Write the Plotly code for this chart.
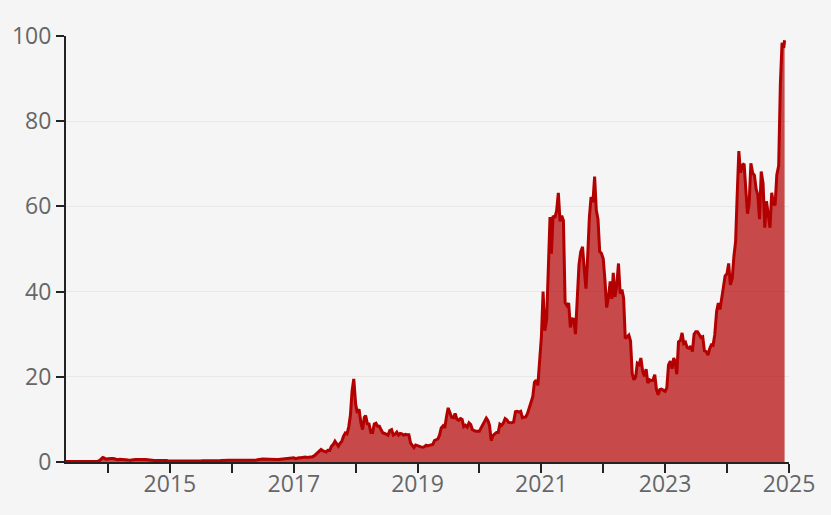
import plotly.graph_objects as go

# Values in thousands, sampled on the 1st, 11th and 21st of each month
start_date = "2013-04-28"
start_value = 0.134
v2013 = [  # May..Dec
    0.116, 0.115, 0.122, 0.122, 0.107, 0.100, 0.088, 0.095, 0.091,
    0.105, 0.107, 0.113, 0.128, 0.125, 0.123, 0.132, 0.128, 0.180,
    0.205, 0.330, 0.600, 1.05, 0.90, 0.65]
v2014 = [
    0.77, 0.85, 0.83, 0.80, 0.65, 0.58, 0.56, 0.63, 0.57, 0.47, 0.42, 0.49,
    0.45, 0.44, 0.52, 0.65, 0.57, 0.59, 0.63, 0.62, 0.62, 0.58, 0.57, 0.50,
    0.47, 0.47, 0.40, 0.38, 0.36, 0.38, 0.33, 0.37, 0.36, 0.38, 0.35, 0.32]
v2015 = [
    0.31, 0.27, 0.23, 0.23, 0.22, 0.24, 0.26, 0.29, 0.26, 0.25, 0.23, 0.23,
    0.24, 0.24, 0.24, 0.22, 0.23, 0.24, 0.26, 0.29, 0.28, 0.28, 0.26, 0.23,
    0.23, 0.24, 0.23, 0.24, 0.25, 0.27, 0.33, 0.31, 0.33, 0.36, 0.42, 0.44]
v2016 = [
    0.43, 0.45, 0.41, 0.37, 0.38, 0.44, 0.43, 0.42, 0.41, 0.42, 0.42, 0.45,
    0.45, 0.45, 0.44, 0.54, 0.70, 0.67, 0.68, 0.65, 0.66, 0.62, 0.59, 0.58,
    0.57, 0.61, 0.60, 0.61, 0.64, 0.63, 0.73, 0.71, 0.74, 0.75, 0.77, 0.83]
v2017 = [
    1.00, 0.78, 0.92, 0.99, 1.00, 1.12, 1.22, 1.19, 1.04, 1.08, 1.21, 1.24,
    1.42, 1.77, 2.07, 2.45, 2.95, 2.64, 2.50, 2.33, 2.75, 2.72, 3.65, 4.08,
    4.90, 4.30, 3.70, 4.40, 4.80, 6.00, 6.80, 6.60, 8.20, 10.9, 16.7, 19.5]
v2018 = [
    13.6, 11.5, 12.4, 9.2, 7.6, 10.5, 10.9, 9.0, 8.9, 6.9, 6.9, 8.9,
    9.1, 8.4, 8.4, 7.5, 6.8, 6.7, 6.4, 6.3, 7.4, 7.6, 6.3, 6.5,
    7.0, 6.3, 6.7, 6.6, 6.3, 6.5, 6.4, 6.4, 4.5, 4.0, 3.4, 4.0]
v2019 = [
    3.8, 3.6, 3.55, 3.45, 3.6, 3.95, 3.8, 3.9, 4.05, 4.1, 5.0, 5.3,
    5.4, 6.3, 8.0, 8.5, 8.0, 10.6, 12.7, 11.6, 10.5, 10.4, 11.4, 10.1,
    9.8, 10.2, 10.0, 8.3, 8.6, 8.2, 9.2, 8.8, 7.6, 7.4, 7.2, 7.2]
v2020 = [
    7.2, 8.0, 8.7, 9.4, 10.3, 9.7, 8.6, 5.0, 6.2, 6.6, 6.9, 6.9,
    8.9, 8.6, 9.1, 10.2, 9.9, 9.3, 9.2, 9.2, 9.4, 11.8, 11.9, 11.7,
    11.9, 10.4, 10.5, 10.6, 11.4, 12.8, 13.7, 15.3, 18.7, 19.2, 18.0, 23.4]
v2021 = [
    29.4, 40.0, 30.8, 33.5, 47.9, 57.5, 48.9, 57.8, 57.3, 59.0, 63.2, 56.5,
    57.8, 56.7, 37.4, 36.7, 37.3, 31.6, 33.6, 33.5, 30.0, 39.2, 46.4, 49.3,
    50.5, 45.2, 40.7, 48.2, 57.4, 62.2, 61.0, 67.0, 59.1, 57.0, 49.4, 49.0]
v2022 = [
    47.7, 42.7, 36.3, 38.7, 42.4, 38.3, 44.4, 38.8, 41.3, 46.6, 39.5, 40.5,
    38.5, 29.0, 29.4, 29.8, 28.4, 20.7, 19.3, 19.9, 23.2, 22.9, 24.4, 21.5,
    20.1, 21.8, 18.5, 19.3, 19.1, 19.2, 20.5, 17.0, 15.8, 17.0, 17.1, 16.8]
v2023 = [
    16.6, 17.4, 22.8, 23.7, 21.9, 24.4, 23.6, 20.6, 28.2, 28.5, 30.3, 27.8,
    28.1, 26.9, 26.7, 27.2, 25.9, 30.0, 30.6, 30.6, 29.9, 29.2, 29.4, 26.1,
    25.9, 25.1, 26.6, 27.5, 27.4, 29.9, 35.4, 37.3, 35.8, 38.7, 41.2, 43.7]
v2024 = [
    44.2, 46.6, 41.6, 43.1, 48.3, 51.8, 62.4, 73.0, 67.9, 69.7, 70.0, 64.9,
    58.3, 60.8, 70.1, 67.8, 67.3, 64.1, 62.7, 57.0, 68.2, 65.4, 55.0, 61.2,
    57.3, 55.0, 63.2, 60.6, 60.3, 67.4, 69.5, 88.7, 98.4, 97.2]
end_date = "2024-12-06"
end_value = 99.0

year_values = {2013: v2013, 2014: v2014, 2015: v2015, 2016: v2016, 2017: v2017,
               2018: v2018, 2019: v2019, 2020: v2020, 2021: v2021, 2022: v2022,
               2023: v2023, 2024: v2024}
sample_days = [1, 11, 21]

dates = [start_date]
values = [start_value]
for year, vals in year_values.items():
    first_month = 5 if year == 2013 else 1
    grid = [f"{year}-{m:02d}-{d:02d}" for m in range(first_month, 13) for d in sample_days]
    dates += grid[:len(vals)]
    values += vals
dates.append(end_date)
values.append(end_value)

tick_years = list(range(2014, 2026))
tick_vals = [f"{y}-01-01" for y in tick_years]
tick_text = [str(y) if y % 2 == 1 else "" for y in tick_years]
y_ticks = [0, 20, 40, 60, 80, 100]

fig = go.Figure(go.Scatter(
    x=dates, y=values, mode="lines",
    line=dict(color="#b30000", width=3),
    fill="tozeroy", fillcolor="rgba(180,0,0,0.7)",
    hoverinfo="skip"))

font = dict(family="Open Sans, Noto Sans, sans-serif", size=23, color="#666666")
fig.update_layout(
    width=831, height=515,
    margin=dict(l=66, r=42, t=36, b=53),
    paper_bgcolor="#f5f5f5", plot_bgcolor="#f5f5f5",
    showlegend=False, font=font,
    xaxis=dict(type="date", range=[start_date, "2025-01-01"],
               tickvals=tick_vals, ticktext=tick_text,
               showgrid=False, zeroline=False, automargin=False,
               showline=True, linecolor="#222", linewidth=2,
               ticks="outside", ticklen=9, tickwidth=2, tickcolor="#222",
               ticklabelstandoff=-9,
               layer="below traces"),
    yaxis=dict(range=[0, 100], tickvals=y_ticks,
               showgrid=True, gridcolor="#e8e8e8", gridwidth=1,
               zeroline=False, automargin=False,
               showline=True, linecolor="#222", linewidth=2,
               ticks="outside", ticklen=8, tickwidth=2, tickcolor="#222"),
)

fig.write_html(
    "out.html",
    config={"displayModeBar": False},
    post_script="document.body.style.margin='0';document.body.style.background='#f5f5f5';",
)
